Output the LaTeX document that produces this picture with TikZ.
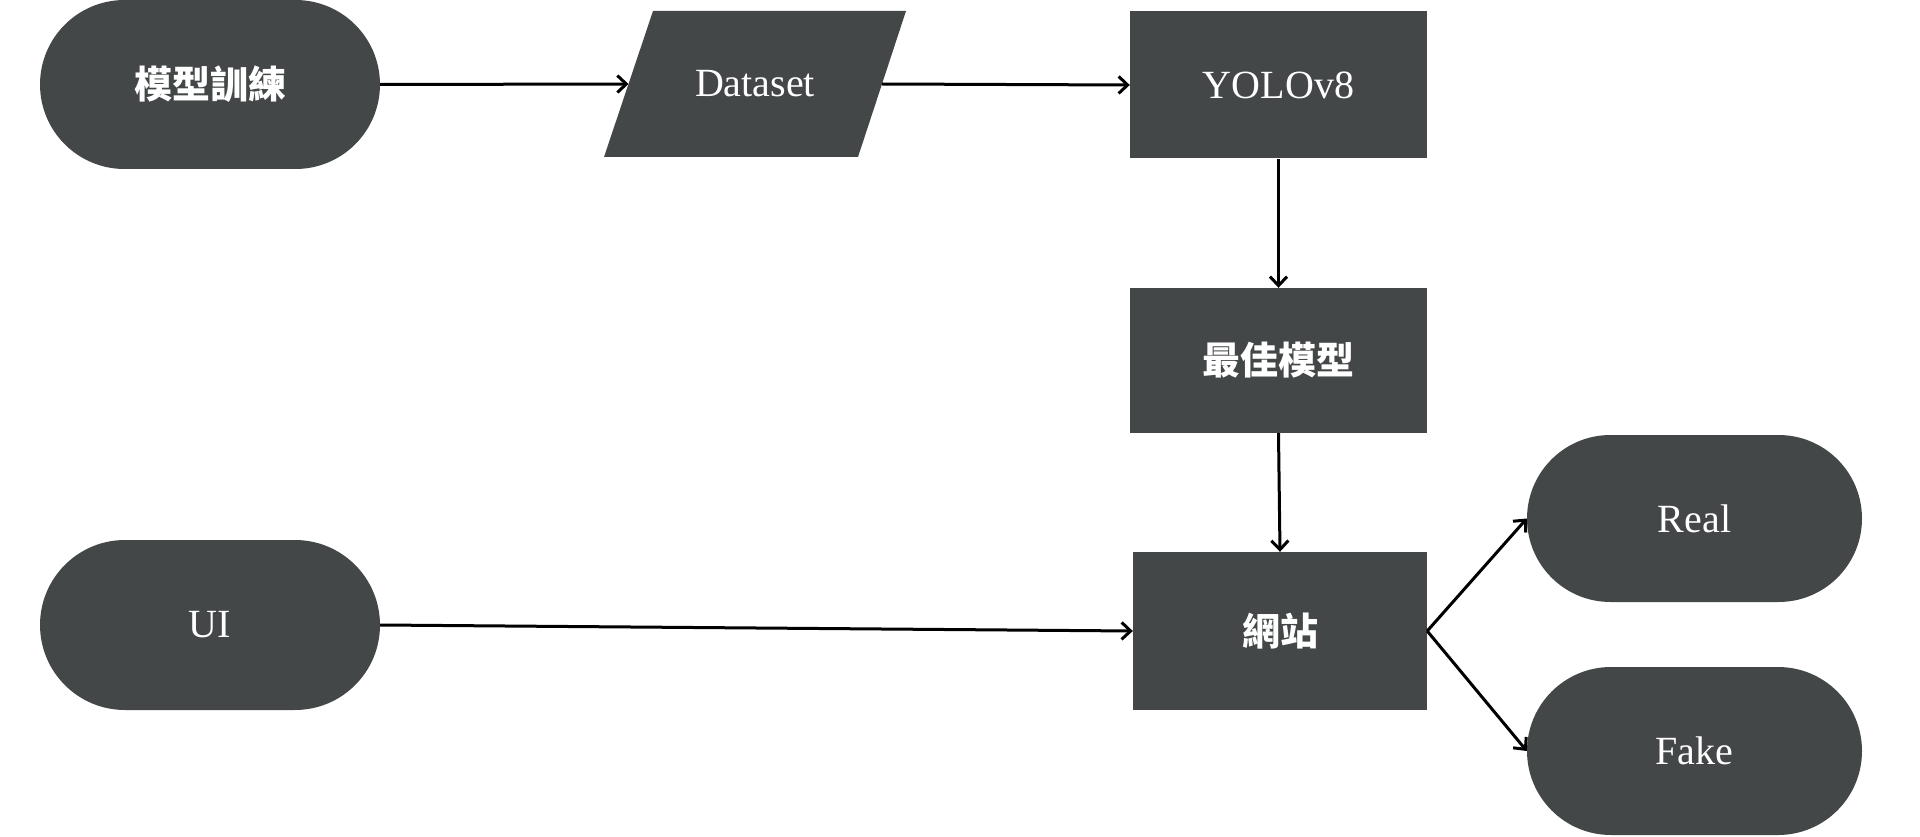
\documentclass[tikz,border=0pt]{standalone}
\usepackage{fontspec}
\setmainfont{Liberation Serif}
\newfontfamily\cjk{Noto Sans CJK TC}
\usetikzlibrary{shapes.misc,arrows.meta}
\definecolor{boxfill}{RGB}{67,71,72}
\tikzset{
  base/.style={fill=boxfill,draw=none,text=white,inner sep=0pt,font=\fontsize{40}{46}\selectfont},
  pill/.style={base,rounded rectangle,minimum width=340pt,minimum height=169pt},
  rectbox/.style={base,rectangle,minimum width=297pt,minimum height=147pt},
  label/.style={text=white,inner sep=0pt,font=\fontsize{40}{46}\selectfont},
  cjktext/.style={font=\cjk\bfseries\fontsize{38}{44}\selectfont},
  link/.style={line width=3pt,-{Straight Barb[length=9pt,width=17pt,line width=3pt]}}
}
\begin{document}
\begin{tikzpicture}[x=1pt,y=-1pt]
\useasboundingbox (0,0) rectangle (1920,837);
\node[pill,cjktext] (train) at (210,84.5) {模型訓練};
\fill[boxfill] (604,157) -- (653,11) -- (906,11) -- (858,157) -- cycle;
\node[label] (ds) at (755,84) {Dataset};
\coordinate (dsin) at (628.5,84);
\coordinate (dsout) at (882,84);
\node[rectbox] (yolo) at (1278.5,85) {YOLOv8};
\node[rectbox,cjktext,minimum height=145pt] (best) at (1278.5,360.5) {最佳模型};
\node[rectbox,cjktext,minimum width=294pt,minimum height=158pt] (web) at (1280,631) {網站};
\node[pill,minimum height=170pt] (ui) at (210,625) {UI};
\node[pill,minimum width=335pt,minimum height=167pt] (real) at (1694.5,518.5) {Real};
\node[pill,minimum width=335pt,minimum height=168pt] (fake) at (1694.5,751) {Fake};
\draw[link] (train.east) -- (dsin);
\draw[link] (dsout) -- (yolo.west);
\draw[link] (yolo.south) -- (best.north);
\draw[link] (best.south) -- (web.north);
\draw[link] (ui.east) -- (web.west);
\draw[link] (web.east) -- (real.west);
\draw[link] (web.east) -- (fake.west);
\end{tikzpicture}
\end{document}
